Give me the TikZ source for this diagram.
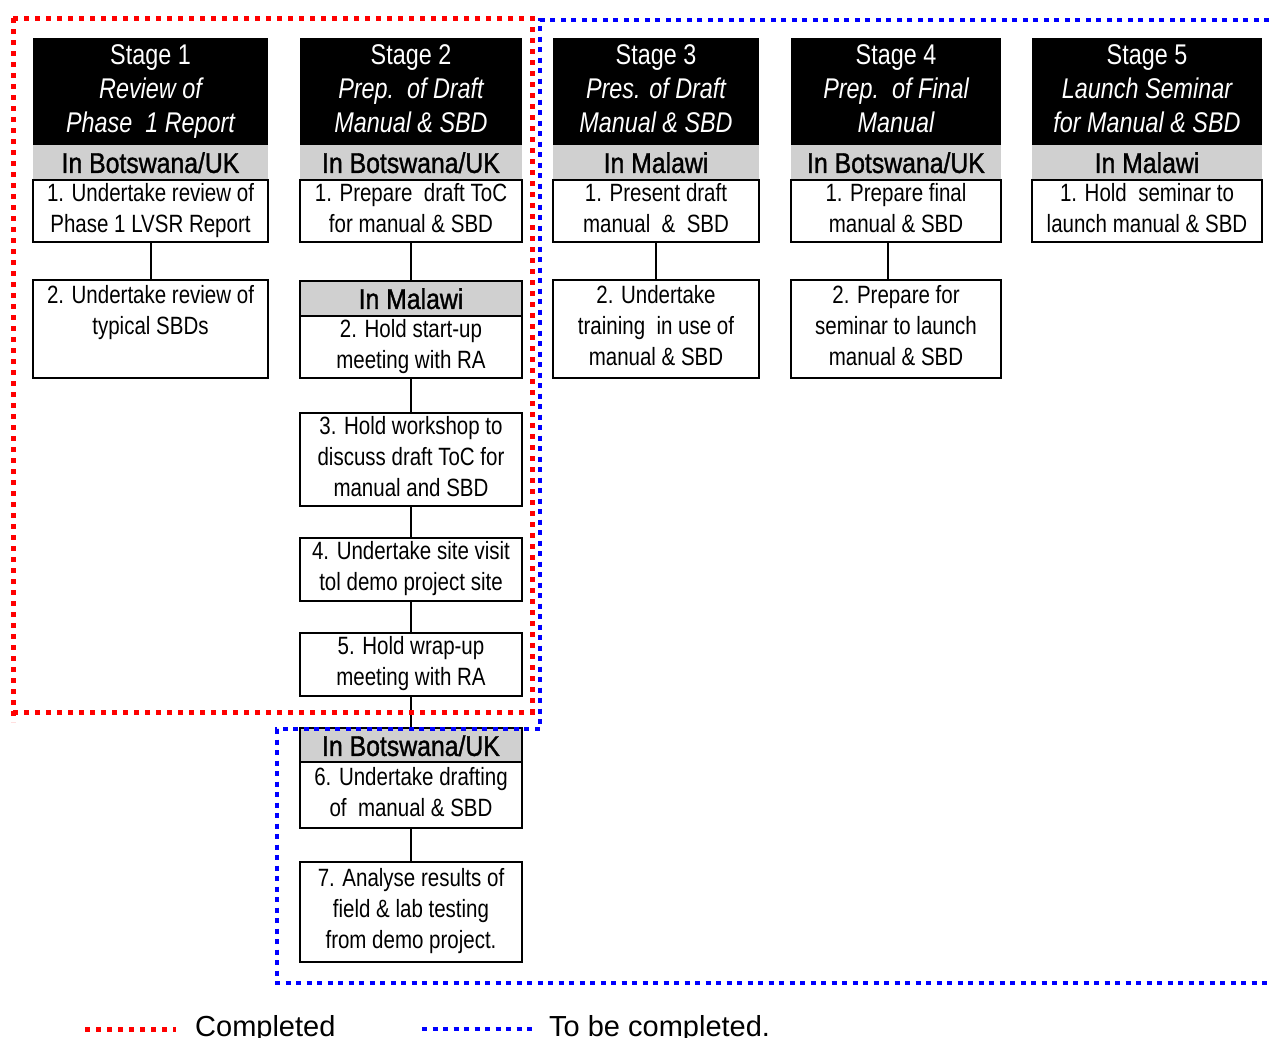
\documentclass[tikz,border=0pt]{standalone}
\usepackage{fontspec}
\setmainfont{Liberation Sans}[FakeStretch=0.82]
\newfontfamily\legendfont{Liberation Sans}
\newfontfamily\grayfont{Liberation Sans}[FakeStretch=0.87, FakeBold=1.2]
\definecolor{cellgray}{RGB}{208,208,208}
\lineskiplimit=-100pt
\newcommand\hdrsz{\fontsize{28.5}{34}\selectfont}
\newcommand\bodysz{\fontsize{25}{31}\selectfont}
\tikzset{
  cell/.style={inner sep=0pt, outer sep=0pt, align=center},
  hstruts/.style={execute at begin node={\rule{0pt}{27.5pt}},
    execute at end node={\rule[-6.7pt]{0pt}{0pt}}},
  bstruts/.style={execute at begin node={\rule{0pt}{24.7pt}},
    execute at end node={\rule[-6.5pt]{0pt}{0pt}}},
  blk/.style={cell, hstruts, fill=black, text=white, font=\hdrsz},
  gry/.style={cell, hstruts, fill=cellgray, font=\grayfont\hdrsz},
  gryb/.style={gry, draw=black, line width=2pt},
  wbox/.style={cell, bstruts, draw=black, line width=2pt, fill=white, font=\bodysz},
  conn/.style={draw=black, line width=2pt},
  reddot/.style={draw=red, line width=5pt, dash pattern=on 5pt off 6pt},
  bluedot/.style={draw=blue, line width=4.5pt, dash pattern=on 5pt off 5.5pt},
}
\begin{document}
\begin{tikzpicture}[x=1pt, y=-1pt]
\useasboundingbox[fill=white] (0,0) rectangle (1269,1037);

% ---------- Stage 1 ----------
\node[blk, minimum width=235pt, minimum height=107pt] (h1) at (150.5,91.5)
  {Stage 1\\\itshape Review of\\\itshape Phase~~1 Report};
\node[gry, minimum width=235pt, minimum height=35pt] (g1) at (150.5,162.5) {In Botswana/UK};
\node[wbox, minimum width=235pt, minimum height=62pt] (a1) at (150.5,211)
  {1. Undertake review of\\Phase 1 LVSR Report};
\node[wbox, minimum width=235pt, minimum height=98pt] (b1) at (150.5,329)
  {2. Undertake review of\\typical SBDs\\};
\draw[conn] (a1) -- (b1);

% ---------- Stage 2 ----------
\node[blk, minimum width=222pt, minimum height=107pt] (h2) at (411,91.5)
  {Stage 2\\\itshape Prep.~~of Draft\\\itshape Manual \& SBD};
\node[gry, minimum width=222pt, minimum height=35pt] (g2) at (411,162.5) {In Botswana/UK};
\node[wbox, minimum width=222pt, minimum height=62pt] (a2) at (411,211)
  {1. Prepare~~draft ToC\\for manual \& SBD};
\node[gryb, minimum width=222pt, minimum height=35pt] (m2) at (411,298.5) {In Malawi};
\node[wbox, minimum width=222pt, minimum height=62pt] (b2) at (411,347)
  {2. Hold start-up\\meeting with RA};
\node[wbox, minimum width=222pt, minimum height=93pt] (c2) at (411,459.5)
  {3. Hold workshop to\\discuss draft ToC for\\manual and SBD};
\node[wbox, minimum width=222pt, minimum height=63pt] (d2) at (411,569.5)
  {4. Undertake site visit\\tol demo project site};
\node[wbox, minimum width=222pt, minimum height=63pt] (e2) at (411,664.5)
  {5. Hold wrap-up\\meeting with RA};
\node[gryb, minimum width=222pt, minimum height=33pt] (k2) at (411,745.5) {In Botswana/UK};
\node[wbox, minimum width=222pt, minimum height=66pt] (f2) at (411,795)
  {6. Undertake drafting\\of~~manual \& SBD};
\node[wbox, minimum width=222pt, minimum height=100pt] (q2) at (411,912)
  {7. Analyse results of\\field \& lab testing\\from demo project.};
\draw[conn] (a2) -- (m2);
\draw[conn] (b2) -- (c2);
\draw[conn] (c2) -- (d2);
\draw[conn] (d2) -- (e2);
\draw[conn] (e2) -- (k2);
\draw[conn] (f2) -- (q2);

% ---------- Stage 3 ----------
\node[blk, minimum width=206pt, minimum height=107pt] (h3) at (656,91.5)
  {Stage 3\\\itshape Pres. of Draft\\\itshape Manual \& SBD};
\node[gry, minimum width=206pt, minimum height=35pt] (g3) at (656,162.5) {In Malawi};
\node[wbox, minimum width=206pt, minimum height=62pt] (a3) at (656,211)
  {1. Present draft\\manual~~\&~~SBD};
\node[wbox, minimum width=206pt, minimum height=98pt] (b3) at (656,329)
  {2. Undertake\\training~~in use of\\manual \& SBD};
\draw[conn] (a3) -- (b3);

% ---------- Stage 4 ----------
\node[blk, minimum width=210pt, minimum height=107pt] (h4) at (896,91.5)
  {Stage 4\\\itshape Prep.~~of Final\\\itshape Manual};
\node[gry, minimum width=210pt, minimum height=35pt] (g4) at (896,162.5) {In Botswana/UK};
\node[wbox, minimum width=210pt, minimum height=62pt] (a4) at (896,211)
  {1. Prepare final\\manual \& SBD};
\node[wbox, minimum width=210pt, minimum height=98pt] (b4) at (896,329)
  {2. Prepare for\\seminar to launch\\manual \& SBD};
\draw[conn] ([xshift=-8pt]a4.south) -- ([xshift=-8pt]b4.north);

% ---------- Stage 5 ----------
\node[blk, minimum width=230pt, minimum height=107pt] (h5) at (1147,91.5)
  {Stage 5\\\itshape Launch Seminar\\\itshape for Manual \& SBD};
\node[gry, minimum width=230pt, minimum height=35pt] (g5) at (1147,162.5) {In Malawi};
\node[wbox, minimum width=230pt, minimum height=62pt] (a5) at (1147,211)
  {1. Hold~~seminar to\\launch manual \& SBD};

% ---------- dotted boundaries ----------
\draw[reddot] (13,18) -- (532,18) -- (532,712) -- (13,712);
\draw[reddot] (13,18) -- (13,722);
\draw[bluedot] (1269,20) -- (540,20) -- (540,729) -- (277,729) -- (277,983) -- (1269,983);

% ---------- legend ----------
\coordinate (lr1) at (85,1029);
\coordinate (lr2) at (176,1029);
\coordinate (lb1) at (422,1029);
\coordinate (lb2) at (534,1029);
\draw[reddot] (lr1) -- (lr2);
\draw[bluedot] (lb1) -- (lb2);
\node[anchor=base west, inner sep=0pt, font=\legendfont\fontsize{29}{34}\selectfont] (lt1) at (195,1036) {Completed};
\node[anchor=base west, inner sep=0pt, font=\legendfont\fontsize{29}{34}\selectfont] (lt2) at (549,1036) {To be completed.};
\end{tikzpicture}
\end{document}
